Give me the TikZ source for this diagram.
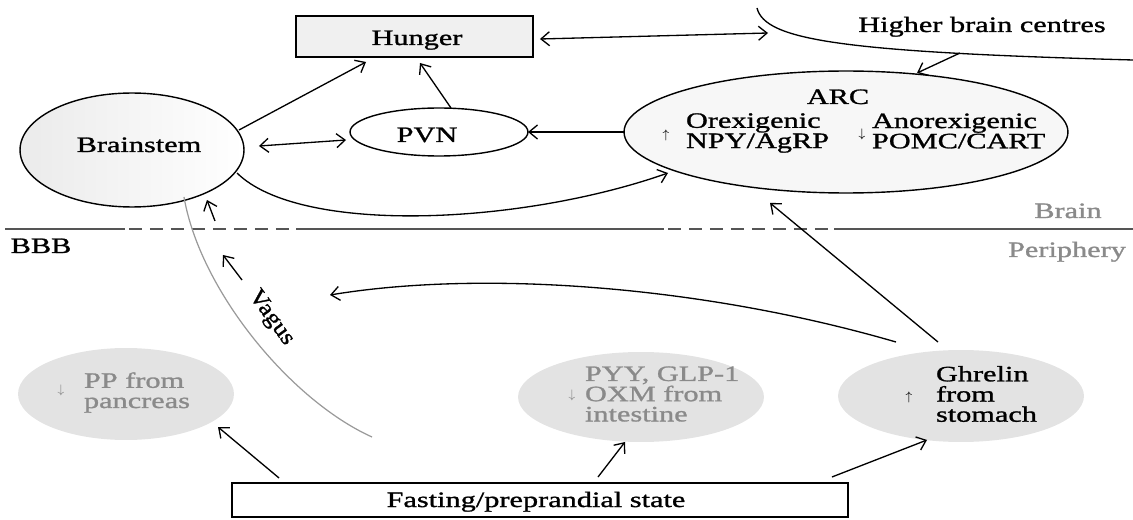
\documentclass[tikz,border=0pt]{standalone}
\usepackage{fontspec}
\setmainfont{Liberation Serif}[FakeStretch=1.38,FakeBold=1.2]
\newfontfamily\vagusfont{Liberation Serif}[FakeStretch=1.12,FakeBold=1.2]
\usetikzlibrary{arrows.meta,shapes.geometric,calc}
\definecolor{txtgray}{HTML}{8A8A8A}
\definecolor{ellgray}{HTML}{E3E3E3}
\definecolor{lnegray}{HTML}{555555}
\definecolor{vaggray}{HTML}{9A9A9A}
\newcommand{\tinyup}{{\fontsize{7}{7}\selectfont$\uparrow$}}
\newcommand{\tinydown}{{\fontsize{7}{7}\selectfont$\downarrow$}}
\begin{document}
\begin{tikzpicture}[x=0.02cm,y=-0.02cm,
  every node/.style={font=\fontsize{12.5}{11.5}\selectfont, inner sep=0pt, outer sep=0pt},
  tip/.style={-{Straight Barb[length=1.7mm,width=2.8mm]}},
  dtip/.style={{Straight Barb[length=1.7mm,width=2.8mm]}-{Straight Barb[length=1.7mm,width=2.8mm]}},
  conn/.style={line width=0.75pt, tip},
  dconn/.style={line width=0.75pt, dtip},
  ellip/.style={ellipse, draw, line width=0.8pt},
  hormone/.style={ellipse, fill=ellgray, draw=none},
  bbb/.style={draw=lnegray, line width=1.4pt},
  graytxt/.style={text=txtgray}]
\useasboundingbox (0,0) rectangle (1133,520);

% ---- brain region ----
\node[draw, line width=1pt, fill=gray!12, minimum width=4.74cm, minimum height=0.82cm] (hunger) at (414.5,36.5) {};
\node[anchor=base] (hungertxt) at (417,45) {Hunger};

\node[ellip, left color=gray!16, right color=white, minimum width=4.48cm, minimum height=2.28cm] (brainstem) at (132,150) {};
\node[anchor=base] (brainstemtxt) at (139,152) {Brainstem};

\node[ellip, fill=white, minimum width=3.56cm, minimum height=0.96cm] (pvn) at (439,132) {};
\node[anchor=base] (pvntxt) at (427,142) {PVN};

\node[ellip, fill=gray!6, minimum width=8.88cm, minimum height=2.44cm] (arc) at (846,132) {};
\node[anchor=base] (arctxt) at (838,104) {ARC};
\node (arcup) at (666,135) {\tinyup};
\node[anchor=west, align=left] (orex) at (686,133) {Orexigenic\\NPY/AgRP};
\node (arcdown) at (862,134) {\tinydown};
\node[anchor=west, align=left] (anorex) at (872,131) {Anorexigenic\\POMC/CART};

\node[anchor=base] (hbctxt) at (982,32) {Higher brain centres};
\draw[line width=0.75pt] (757,8) .. controls (765,40) and (840,52) .. (1133,60);
\coordinate (hbcin) at (768,33);
\coordinate (hbcout) at (960,53);

% ---- BBB line ----
\draw[bbb] (5,229) -- (125,229);
\draw[bbb, dash pattern=on 0.26cm off 0.16cm] (129,229) -- (296,229);
\draw[bbb] (296,229) -- (664,229);
\draw[bbb, dash pattern=on 0.26cm off 0.16cm] (668,229) -- (834,229);
\draw[bbb] (834,229) -- (1133,229);
\node[anchor=base] (bbbtxt) at (41,253) {BBB};
\node[anchor=base, graytxt] (braintxt) at (1068,218) {Brain};
\node[anchor=base, graytxt] (peripherytxt) at (1067,257) {Periphery};

% ---- periphery ----
\node[hormone, minimum width=4.32cm, minimum height=1.84cm] (pp) at (126,394) {};
\node[graytxt] (ppdown) at (61,390) {\tinydown};
\node[anchor=west, align=left, graytxt] (pptxt) at (84,392.5) {PP from\\pancreas};

\node[hormone, minimum width=4.92cm, minimum height=1.8cm] (pyy) at (641,397) {};
\node[graytxt] (pyydown) at (572,395) {\tinydown};
\node[anchor=west, align=left, graytxt] (pyytxt) at (585,394) {PYY, GLP-1\\OXM from\\intestine};

\node[hormone, minimum width=4.92cm, minimum height=1.84cm] (ghrelin) at (961,396) {};
\node (ghrelinup) at (909,397) {\tinyup};
\node[anchor=west, align=left] (ghrelintxt) at (936,394) {Ghrelin\\from\\stomach};

\node[draw, line width=1pt, fill=white, minimum width=12.32cm, minimum height=0.68cm] (fasting) at (540,500) {};
\node[anchor=base] (fastingtxt) at (536,507) {Fasting/preprandial state};

% ---- vagus ----
\coordinate (vagusend) at (372,437);
\draw[draw=vaggray, line width=0.7pt] ($(brainstem.south)+(52,-10)$) .. controls (200,290) and (290,400) .. (vagusend);
\node[rotate=-54, font=\vagusfont\fontsize{13}{13}\selectfont] (vagustxt) at (271,318) {Vagus};
\coordinate (va1) at (215,221);
\coordinate (vb1) at (207,200);
\coordinate (va2) at (242,280);
\coordinate (vb2) at (223,255);
\draw[conn] (va1) -- (vb1);
\draw[conn] (va2) -- (vb2);

% ---- connectors ----
\draw[conn] ($(brainstem.center)+(107,-20)$) -- ($(hunger.south)+(-48.5,5)$);
\draw[conn] ($(pvn.north)+(12,0)$) -- ($(hunger.south)+(5.5,6)$);
\draw[dconn] ($(brainstem.east)+(15,-4)$) -- ($(pvn.west)+(-4,8)$);
\draw[conn] (arc.west) -- (pvn.east);
\draw[dconn] ($(hunger.east)+(7,2.5)$) -- (hbcin);
\draw[conn] (hbcout) -- ($(arc.north)+(71,2)$);
\draw[conn] ($(brainstem.center)+(105,23)$) .. controls (300,235) and (520,225) .. ($(arc.center)+(-178,41)$);
\draw[conn] ($(ghrelin.north)+(-23,-8)$) -- ($(arc.south)+(-76,10)$);
\coordinate (ghrelinfree) at (330,295);
\draw[conn] ($(ghrelin.north)+(-65,-8)$) .. controls (700,285) and (480,270) .. (ghrelinfree);
\draw[conn] ($(fasting.north west)+(47,-5)$) -- ($(pp.center)+(92,33)$);
\draw[conn] ($(fasting.north)+(58,-6)$) -- ($(pyy.south)+(-16,0)$);
\draw[conn] ($(fasting.north east)+(-16,-6)$) -- ($(ghrelin.south)+(-34,-2)$);
\end{tikzpicture}
\end{document}
